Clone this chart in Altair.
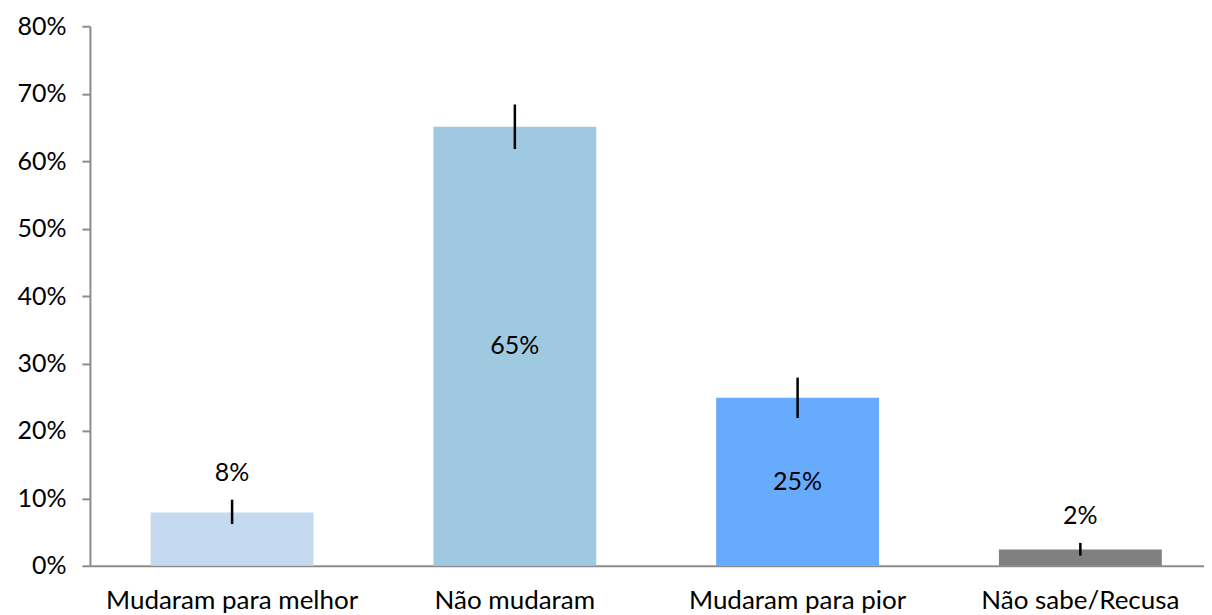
import altair as alt
import pandas as pd

categories = ["Mudaram para melhor", "Não mudaram", "Mudaram para pior", "Não sabe/Recusa"]
values = [0.079, 0.651, 0.249, 0.024]
err_low = [0.062, 0.618, 0.219, 0.015]
err_high = [0.098, 0.684, 0.279, 0.034]
colors = ["#C5D9F1", "#9FC9E0", "#67ABFE", "#808080"]
y_ticks = [0, 0.1, 0.2, 0.3, 0.4, 0.5, 0.6, 0.7, 0.8]

df = pd.DataFrame({"cat": categories, "value": values, "lo": err_low, "hi": err_high})

FONT = "Lato"
FS = 26

x = alt.X("cat:N", sort=categories, title=None,
          scale=alt.Scale(paddingInner=0.424, paddingOuter=0.182, align=0.59),
          axis=alt.Axis(labelAngle=0, labelFontSize=FS, labelColor="#000000", labelFont=FONT,
                        labelLimit=0, ticks=False, domainColor="#8C8C8C", domainWidth=2,
                        labelPadding=22))

y_scale = alt.Scale(domain=[0, 0.8], nice=False)

bars = alt.Chart(df).mark_bar().encode(
    x=x,
    y=alt.Y("value:Q", scale=y_scale, title=None,
            axis=alt.Axis(values=y_ticks, format=".0%", labelFontSize=FS - 1, labelFont=FONT,
                          labelColor="#000000", grid=False, tickSize=8, tickColor="#8C8C8C",
                          tickWidth=2, domainColor="#8C8C8C", domainWidth=2, labelPadding=16)),
    color=alt.Color("cat:N", sort=categories,
                    scale=alt.Scale(domain=categories, range=colors), legend=None),
)

errs = alt.Chart(df).mark_rule(color="#000000", strokeWidth=2.5).encode(
    x=alt.X("cat:N", sort=categories),
    y=alt.Y("lo:Q", scale=y_scale),
    y2="hi:Q",
)

inside = alt.Chart(df).transform_filter("datum.value >= 0.2").transform_calculate(
    mid="datum.value / 2", lab="format(datum.value, '.0%')"
).mark_text(font=FONT, fontSize=FS - 1, color="#000000").encode(
    x=alt.X("cat:N", sort=categories),
    y=alt.Y("mid:Q", scale=y_scale),
    text="lab:N",
)

above = alt.Chart(df).transform_filter("datum.value < 0.2").transform_calculate(
    lab="format(datum.value, '.0%')"
).mark_text(font=FONT, fontSize=FS - 1, color="#000000", dy=-27).encode(
    x=alt.X("cat:N", sort=categories),
    y=alt.Y("hi:Q", scale=y_scale),
    text="lab:N",
)

chart = alt.layer(bars, errs, inside, above).properties(
    width=1115, height=540,
    padding={"left": 8, "top": 6, "right": 0, "bottom": 0},
).configure_view(stroke=None)

chart.save("out.html", embed_options={"renderer": "svg", "actions": False})
